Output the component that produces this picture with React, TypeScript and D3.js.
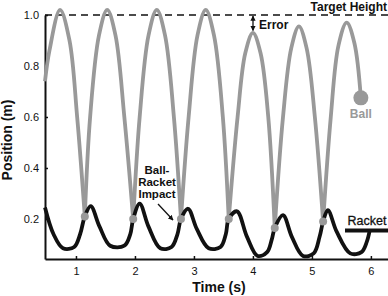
import React, { useRef, useEffect } from 'react';
import * as d3 from 'd3';

// ball flight arcs, one per bounce: [time (s), position (m)]
const ballArcs: [number, number][][] = [
  [[0.475, 0.74], [0.55, 0.86], [0.73, 1.02], [0.89, 0.9], [1.02, 0.6], [1.15, 0.21]],
  [[1.15, 0.21], [1.24, 0.6], [1.39, 0.92], [1.53, 1.02], [1.67, 0.92], [1.82, 0.6], [1.97, 0.2]],
  [[1.97, 0.2], [2.08, 0.6], [2.23, 0.92], [2.37, 1.02], [2.51, 0.92], [2.66, 0.6], [2.78, 0.2]],
  [[2.78, 0.2], [2.91, 0.6], [3.06, 0.92], [3.2, 1.02], [3.34, 0.92], [3.49, 0.6], [3.59, 0.2]],
  [[3.59, 0.2], [3.74, 0.6], [3.87, 0.85], [4.0, 0.93], [4.13, 0.85], [4.26, 0.6], [4.37, 0.165]],
  [[4.37, 0.165], [4.51, 0.6], [4.65, 0.87], [4.78, 0.955], [4.91, 0.87], [5.05, 0.6], [5.19, 0.19]],
  [[5.19, 0.19], [5.32, 0.6], [5.45, 0.88], [5.59, 0.97], [5.72, 0.89], [5.83, 0.675]],
];

const impactT = [1.15, 1.97, 2.78, 3.59, 4.37, 5.19];
const impactY = [0.21, 0.2, 0.2, 0.2, 0.165, 0.19];

const racketT = [0.475, 0.62, 0.78, 0.97, 1.07, 1.15, 1.25, 1.4, 1.58, 1.82, 1.92, 1.97, 2.08, 2.23, 2.43, 2.62, 2.72, 2.78, 2.9, 3.05, 3.25, 3.45, 3.54, 3.59, 3.73, 3.9, 4.08, 4.24, 4.32, 4.37, 4.51, 4.66, 4.85, 5.03, 5.13, 5.19, 5.27, 5.42, 5.65, 5.84, 5.93, 5.98];
const racketY = [0.245, 0.14, 0.085, 0.09, 0.14, 0.21, 0.25, 0.17, 0.095, 0.095, 0.14, 0.2, 0.26, 0.17, 0.085, 0.09, 0.14, 0.2, 0.24, 0.16, 0.085, 0.09, 0.14, 0.2, 0.23, 0.13, 0.055, 0.07, 0.12, 0.165, 0.215, 0.13, 0.055, 0.065, 0.13, 0.19, 0.235, 0.15, 0.065, 0.07, 0.11, 0.155];

const ballEnd: [number, number] = [5.83, 0.675];
const targetHeight = 1.0;

const xTicks = [1, 2, 3, 4, 5, 6];
const yTicks = [0.2, 0.4, 0.6, 0.8, 1.0];

const GRAY = '#999999';
const FONT = '"Liberation Sans", Arial, sans-serif';

const Chart = () => {
  const svgRef = useRef<SVGSVGElement>(null);
  const width = 388;
  const height = 296;

  useEffect(() => {
    const svg = d3.select(svgRef.current).attr('width', width).attr('height', height);
    svg.selectAll('*').remove();

    const x = d3.scaleLinear().domain([0.475, 6.29]).range([45, 388]);
    const y = d3.scaleLinear().domain([0.043, 1.0]).range([259, 15]);

    const defs = svg.append('defs');
    defs
      .append('marker')
      .attr('id', 'ah')
      .attr('viewBox', '0 0 10 10')
      .attr('refX', 9)
      .attr('refY', 5)
      .attr('markerWidth', 4)
      .attr('markerHeight', 4)
      .attr('orient', 'auto-start-reverse')
      .append('path')
      .attr('d', 'M0,0 L10,5 L0,10 z')
      .attr('fill', '#111');

    // target height dashed line
    svg
      .append('line')
      .attr('x1', x(0.475))
      .attr('x2', 388)
      .attr('y1', y(targetHeight))
      .attr('y2', y(targetHeight))
      .attr('stroke', '#111')
      .attr('stroke-width', 1.6)
      .attr('stroke-dasharray', '7,5');

    // axes
    const gx = svg
      .append('g')
      .attr('transform', `translate(0, ${y(0.043)})`)
      .call(d3.axisBottom(x).tickValues(xTicks).tickSizeInner(-3).tickSizeOuter(0).tickPadding(8).tickFormat(d3.format('d')));
    const gy = svg
      .append('g')
      .attr('transform', `translate(${x(0.475)}, 0)`)
      .call(d3.axisLeft(y).tickValues(yTicks).tickSizeInner(-3).tickSizeOuter(0).tickPadding(6).tickFormat(d3.format('.1f')));
    [gx, gy].forEach(g => {
      g.select('.domain').attr('stroke', '#111').attr('stroke-width', 2);
      g.selectAll('.tick line').attr('stroke', '#111').attr('stroke-width', 1.5);
      g.selectAll('.tick text').attr('font-family', FONT).attr('font-size', 11).attr('fill', '#111');
    });

    // ball arcs
    const line = d3
      .line<[number, number]>()
      .x(d => x(d[0]))
      .y(d => y(d[1]))
      .curve(d3.curveCatmullRom.alpha(0.5));
    svg
      .selectAll('.arc')
      .data(ballArcs)
      .enter()
      .append('path')
      .attr('fill', 'none')
      .attr('stroke', GRAY)
      .attr('stroke-width', 3.8)
      .attr('d', d => line(d));

    // racket
    const racketLine = d3
      .line<number>()
      .x((d, i) => x(racketT[i]))
      .y(d => y(d))
      .curve(d3.curveCatmullRom.alpha(0.5));
    svg
      .append('path')
      .datum(racketY)
      .attr('fill', 'none')
      .attr('stroke', '#111')
      .attr('stroke-width', 3.8)
      .attr('d', racketLine);

    // impact dots
    svg
      .selectAll('.dot')
      .data(impactT)
      .enter()
      .append('circle')
      .attr('cx', d => x(d))
      .attr('cy', (d, i) => y(impactY[i]))
      .attr('r', 4)
      .attr('fill', GRAY);

    // ball legend
    svg
      .append('circle')
      .attr('cx', x(ballEnd[0]))
      .attr('cy', y(ballEnd[1]))
      .attr('r', 7.5)
      .attr('fill', GRAY);
    svg
      .append('text')
      .attr('x', x(ballEnd[0]))
      .attr('y', 118)
      .attr('text-anchor', 'middle')
      .attr('font-family', FONT)
      .attr('font-size', 12)
      .attr('font-weight', 'bold')
      .attr('fill', GRAY)
      .text('Ball');

    // racket legend
    const racketEndY = y(racketY[racketY.length - 1]);
    svg
      .append('line')
      .attr('x1', 345)
      .attr('x2', 388)
      .attr('y1', racketEndY)
      .attr('y2', racketEndY)
      .attr('stroke', '#111')
      .attr('stroke-width', 4);
    svg
      .append('text')
      .attr('x', 367)
      .attr('y', 225)
      .attr('text-anchor', 'middle')
      .attr('font-family', FONT)
      .attr('font-size', 12.5)
      .attr('fill', '#111')
      .attr('stroke', '#111')
      .attr('stroke-width', 0.3)
      .text('Racket');

    // target height label
    svg
      .append('text')
      .attr('x', 387)
      .attr('y', 11)
      .attr('text-anchor', 'end')
      .attr('font-family', FONT)
      .attr('font-size', 12)
      .attr('font-weight', 'bold')
      .attr('fill', '#111')
      .text('Target Height');

    // error arrow
    svg
      .append('line')
      .attr('x1', 253)
      .attr('x2', 253)
      .attr('y1', y(targetHeight) + 1)
      .attr('y2', y(0.935) - 1)
      .attr('stroke', '#111')
      .attr('stroke-width', 1.3)
      .attr('marker-start', 'url(#ah)')
      .attr('marker-end', 'url(#ah)');
    svg
      .append('text')
      .attr('x', 259)
      .attr('y', 29)
      .attr('font-family', FONT)
      .attr('font-size', 12)
      .attr('font-weight', 'bold')
      .attr('fill', '#111')
      .text('Error');

    // impact annotation
    const note = svg
      .append('text')
      .attr('text-anchor', 'middle')
      .attr('font-family', FONT)
      .attr('font-size', 11.5)
      .attr('font-weight', 'bold')
      .attr('fill', '#111');
    ['Ball-', 'Racket', 'Impact'].forEach((s, i) => {
      note.append('tspan').attr('x', 157).attr('y', 174 + i * 12).text(s);
    });
    svg
      .append('line')
      .attr('x1', 158)
      .attr('y1', 204)
      .attr('x2', 173)
      .attr('y2', 220)
      .attr('stroke', '#111')
      .attr('stroke-width', 1.3)
      .attr('marker-end', 'url(#ah)');

    // axis titles
    svg
      .append('text')
      .attr('x', 219)
      .attr('y', 292)
      .attr('text-anchor', 'middle')
      .attr('font-family', FONT)
      .attr('font-size', 14)
      .attr('font-weight', 'bold')
      .attr('fill', '#111')
      .text('Time (s)');
    svg
      .append('text')
      .attr('transform', 'translate(12, 140) rotate(-90)')
      .attr('text-anchor', 'middle')
      .attr('font-family', FONT)
      .attr('font-size', 14)
      .attr('font-weight', 'bold')
      .attr('fill', '#111')
      .text('Position (m)');
  }, []);

  return <svg ref={svgRef} style={{ display: 'block' }}></svg>;
};

export default function App() {
  return (
    <div style={{ position: 'fixed', left: 0, top: 0, background: '#fff' }}>
      <Chart />
    </div>
  );
}
